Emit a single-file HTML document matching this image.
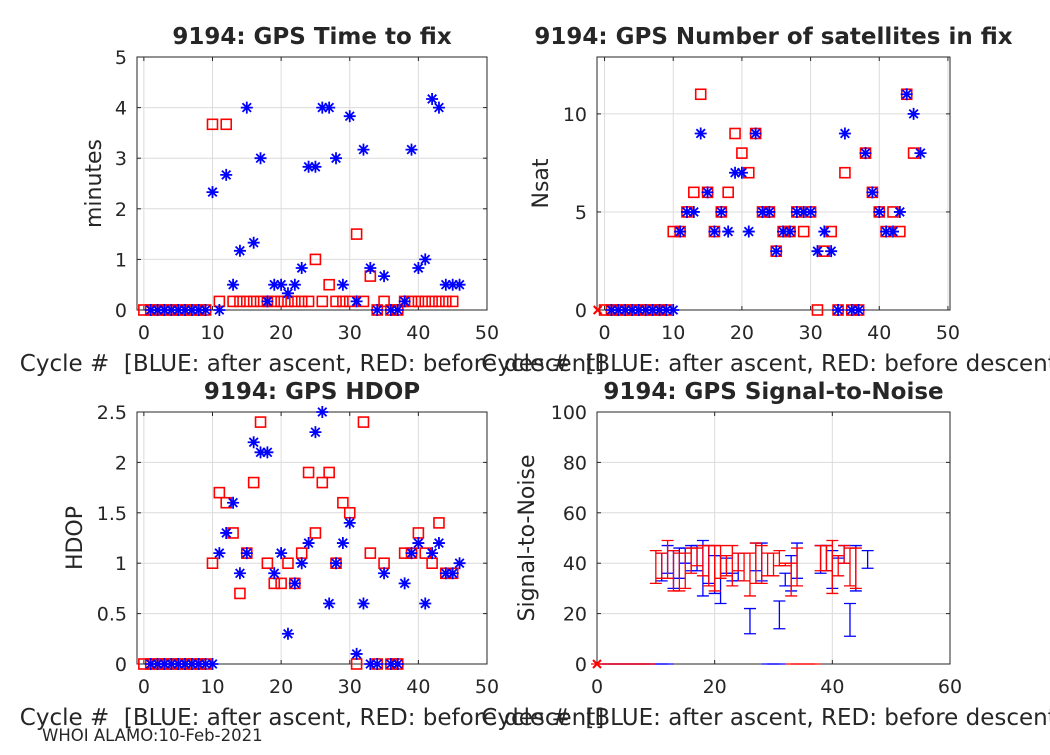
<!DOCTYPE html>
<html><head><meta charset="utf-8"><style>
body{margin:0;background:#fff;}
svg text{font-family:"DejaVu Sans","Liberation Sans",sans-serif;fill:#262626;}
</style></head><body>
<svg id="fig" width="1050" height="750" viewBox="0 0 1050 750" xmlns="http://www.w3.org/2000/svg"></svg>
<script>
// ---- Time to fix ----
const ttfCycles = [1,2,3,4,5,6,7,8,9,10,11,12,13,14,15,16,17,18,19,20,21,22,23,24,25,26,27,28,29,30,31,32,33,34,35,36,37,38,39,40,41,42,43,44,45,46];
const ttfBlue = [0,0,0,0,0,0,0,0,0,2.33,0,2.67,0.5,1.17,4.0,1.33,3.0,0.17,0.5,0.5,0.33,0.5,0.83,2.83,2.83,4.0,4.0,3.0,0.5,3.83,0.17,3.17,0.83,0,0.67,0,0,0.17,3.17,0.83,1.0,4.17,4.0,0.5,0.5,0.5];
const ttfRedCycles = [0,1,2,3,4,5,6,7,8,9,10,11,12,13,14,15,16,17,18,19,20,21,22,23,24,25,26,27,28,29,30,31,32,33,34,35,36,37,38,39,40,41,42,43,44,45];
const ttfRed = [0,0,0,0,0,0,0,0,0,0,3.67,0.17,3.67,0.17,0.17,0.17,0.17,0.17,0.17,0.17,0.17,0.17,0.17,0.17,0.17,1.0,0.17,0.5,0.17,0.17,0.17,1.5,0.17,0.67,0,0.17,0,0,0.17,0.17,0.17,0.17,0.17,0.17,0.17,0.17];
// ---- Nsat ----
const satBlueCycles = [1,2,3,4,5,6,7,8,9,10,11,12,13,14,15,16,17,18,19,20,21,22,23,24,25,26,27,28,29,30,31,32,33,34,35,36,37,38,39,40,41,42,43,44,45,46];
const satBlue = [0,0,0,0,0,0,0,0,0,0,4,5,5,9,6,4,5,4,7,7,4,9,5,5,3,4,4,5,5,5,3,4,3,0,9,0,0,8,6,5,4,4,5,11,10,8];
const satRedCycles = [0,1,2,3,4,5,6,7,8,9,10,11,12,13,14,15,16,17,18,19,20,21,22,23,24,25,26,27,28,29,30,31,32,33,34,35,36,37,38,39,40,41,42,43,44,45];
const satRed = [0,0,0,0,0,0,0,0,0,0,4,4,5,6,11,6,4,5,6,9,8,7,9,5,5,3,4,4,5,4,5,0,3,4,0,7,0,0,8,6,5,4,5,4,11,8];
// ---- HDOP ----
const hdopBlue = [0,0,0,0,0,0,0,0,0,0,1.1,1.3,1.6,0.9,1.1,2.2,2.1,2.1,0.9,1.1,0.3,0.8,1.0,1.2,2.3,2.5,0.6,1.0,1.2,1.4,0.1,0.6,0,0,0.9,0,0,0.8,1.1,1.2,0.6,1.1,1.2,0.9,0.9,1.0];
const hdopRed = [0,0,0,0,0,0,0,0,0,0,1.0,1.7,1.6,1.3,0.7,1.1,1.8,2.4,1.0,0.8,0.8,1.0,0.8,1.1,1.9,1.3,1.8,1.9,1.0,1.6,1.5,0,2.4,1.1,0,1.0,0,0,1.1,1.1,1.3,1.1,1.0,1.4,0.9,0.9];
// ---- Signal-to-noise ----
const snrRedCycles = [10,11,12,13,14,15,16,17,18,19,20,21,22,23,24,25,26,27,28,29,30,31,32,33,34,38,39,40,41,42,43,44];
const snrRedMin = [32,34,34,29,29,30,36,39,35,31,29,34,35,31,37,33,27,32,32,35,35,39,39,27,31,37,37,28,35,40,31,30];
const snrRedMax = [45,44,49,45,44,44,46,46,47,47,47,47,43,47,44,44,44,48,47,44,44,45,40,40,46,47,47,49,43,47,46,46];
const snrBlueCycles = [11,12,13,14,15,16,17,18,19,20,21,22,23,24,26,27,28,31,32,33,34,38,39,40,41,42,43,44,46];
const snrBlueMin = [33,36,30,34,40,37,37,27,32,28,24,36,33,33,12,37,33,14,31,29,34,36,37,30,42,40,11,29,38];
const snrBlueMax = [44,47,45,46,46,47,47,49,47,43,43,42,36,44,22,48,48,25,36,43,48,47,47,45,43,47,24,47,45];
const snrBlueZero = [1,2,3,4,5,6,7,8,9,10,11,12,29,30,31];
const snrRedZero = [0,1,2,3,4,5,6,7,8,9,33,34,35,36,37];
const cycleLabel = "Cycle #\u00a0\u00a0[BLUE: after ascent, RED: before descent]";

const NS = "http://www.w3.org/2000/svg";
const svg = document.getElementById('fig');
function el(tag, attrs, parent){const e=document.createElementNS(NS,tag);for(const k in attrs)e.setAttribute(k,attrs[k]);(parent||svg).appendChild(e);return e;}
function txt(s, attrs, parent){const t=el('text',attrs,parent);t.textContent=s;return t;}

function makeAxes(name, box, xlim, ylim, xticks, yticks, xtl, ytl, title, ylabel, ylabX){
  const g = el('g',{});
  
  
  const sx = v => box.l + (v - xlim[0])/(xlim[1]-xlim[0])*(box.r-box.l);
  const sy = v => box.b - (v - ylim[0])/(ylim[1]-ylim[0])*(box.b-box.t);
  const grid = el('g',{},g);
  
  
  xticks.forEach((v,i)=>{
    const x=sx(v);
    el('line',{x1:x,x2:x,y1:box.t,y2:box.b,stroke:'#dcdcdc','stroke-width':1},grid);
    el('line',{x1:x,x2:x,y1:box.b,y2:box.b-4,stroke:'#262626'},g);
    el('line',{x1:x,x2:x,y1:box.t,y2:box.t+4,stroke:'#262626'},g);
    const t=txt(xtl[i],{x:x,y:box.b+29,'font-size':19,'text-anchor':'middle'},g);
    
    
  });
  yticks.forEach((v,i)=>{
    const y=sy(v);
    el('line',{x1:box.l,x2:box.r,y1:y,y2:y,stroke:'#dcdcdc','stroke-width':1},grid);
    el('line',{x1:box.l,x2:box.l+4,y1:y,y2:y,stroke:'#262626'},g);
    el('line',{x1:box.r,x2:box.r-4,y1:y,y2:y,stroke:'#262626'},g);
    const t=txt(ytl[i],{x:box.l-10,y:y+7,'font-size':19,'text-anchor':'end'},g);
    
    
  });
  const frame = el('rect',{x:box.l,y:box.t,width:box.r-box.l,height:box.b-box.t,fill:'none',stroke:'#262626','stroke-width':1},g);
  
  
  const tt=txt(title,{x:(box.l+box.r)/2,y:box.t-13,'font-size':23,'font-weight':'bold','text-anchor':'middle',fill:'#000'},g);
  
  
  const xl=txt(cycleLabel,{x:(box.l+box.r)/2,y:box.b+61,'font-size':23,'text-anchor':'middle'},g);
  
  
  const cy=(box.t+box.b)/2;
  const yl=txt(ylabel,{x:ylabX,y:cy,'font-size':22,'text-anchor':'middle',transform:`rotate(-90 ${ylabX} ${cy})`},g);
  
  
  const plot = el('g',{},g);
  
  
  return {sx,sy,g:plot};
}
function square(ax,x,y){
  const s=el('rect',{x:ax.sx(x)-5,y:ax.sy(y)-5,width:10,height:10,fill:'none',stroke:'#ff0000','stroke-width':1.6},ax.g);
  
  
}
function star(ax,x,y){
  const cx=ax.sx(x), cy=ax.sy(y), r=6, d=4.3;
  const p=el('path',{d:`M${cx-r} ${cy}H${cx+r}M${cx} ${cy-r}V${cy+r}M${cx-d} ${cy-d}L${cx+d} ${cy+d}M${cx-d} ${cy+d}L${cx+d} ${cy-d}`,stroke:'#0000ff','stroke-width':1.8,fill:'none'},ax.g);
  
  
}
function cross(ax,x,y){
  const cx=ax.sx(x), cy=ax.sy(y), d=4;
  const p=el('path',{d:`M${cx-d} ${cy-d}L${cx+d} ${cy+d}M${cx-d} ${cy+d}L${cx+d} ${cy-d}`,stroke:'#ff0000','stroke-width':2},ax.g);
  
  
}

// Top-left
const a1 = makeAxes('time-to-fix-chart',{l:137,r:487,t:57,b:310},[-1,50],[0,5],[0,10,20,30,40,50],[0,1,2,3,4,5],['0','10','20','30','40','50'],['0','1','2','3','4','5'],'9194: GPS Time to fix','minutes',101);
ttfRedCycles.forEach((c,i)=>square(a1,c,ttfRed[i]));
ttfCycles.forEach((c,i)=>star(a1,c,ttfBlue[i]));

// Top-right
const a2 = makeAxes('nsat-chart',{l:597,r:950,t:57,b:310},[-1.1,50.3],[0,12.9],[0,10,20,30,40,50],[0,5,10],['0','10','20','30','40','50'],['0','5','10'],'9194: GPS Number of satellites in fix','Nsat',548);
satRedCycles.forEach((c,i)=>square(a2,c,satRed[i]));
cross(a2,-1,0);
satBlueCycles.forEach((c,i)=>star(a2,c,satBlue[i]));

// Bottom-left
const a3 = makeAxes('hdop-chart',{l:137,r:487,t:412,b:664},[-1,50],[0,2.5],[0,10,20,30,40,50],[0,0.5,1,1.5,2,2.5],['0','10','20','30','40','50'],['0','0.5','1','1.5','2','2.5'],'9194: GPS HDOP','HDOP',82);
satRedCycles.forEach((c,i)=>square(a3,c,hdopRed[i]));
satBlueCycles.forEach((c,i)=>star(a3,c,hdopBlue[i]));

// Bottom-right
const a4 = makeAxes('signal-to-noise-chart',{l:597,r:950,t:412,b:664},[0,60],[0,100],[0,20,40,60],[0,20,40,60,80,100],['0','20','40','60'],['0','20','40','60','80','100'],'9194: GPS Signal-to-Noise','Signal-to-Noise',534);
function ebar(ax,c,lo,hi,col){
  const x=ax.sx(c), y1=ax.sy(lo), y2=ax.sy(hi), w=6;
  const p=el('path',{d:`M${x} ${y1}V${y2}M${x-w} ${y1}H${x+w}M${x-w} ${y2}H${x+w}`,stroke:col,'stroke-width':1.3,fill:'none'},ax.g);
  
  
}
snrBlueZero.forEach(c=>ebar(a4,c,0,0,'#0000ff'));
snrRedZero.forEach(c=>ebar(a4,c,0,0,'#ff0000'));
snrBlueCycles.forEach((c,i)=>ebar(a4,c,snrBlueMin[i],snrBlueMax[i],'#0000ff'));
snrRedCycles.forEach((c,i)=>ebar(a4,c,snrRedMin[i],snrRedMax[i],'#ff0000'));
cross(a4,0,0);

const foot=txt('WHOI ALAMO:10-Feb-2021',{x:42,y:741,'font-size':16.5,fill:'#000'});


</script>
</body></html>
